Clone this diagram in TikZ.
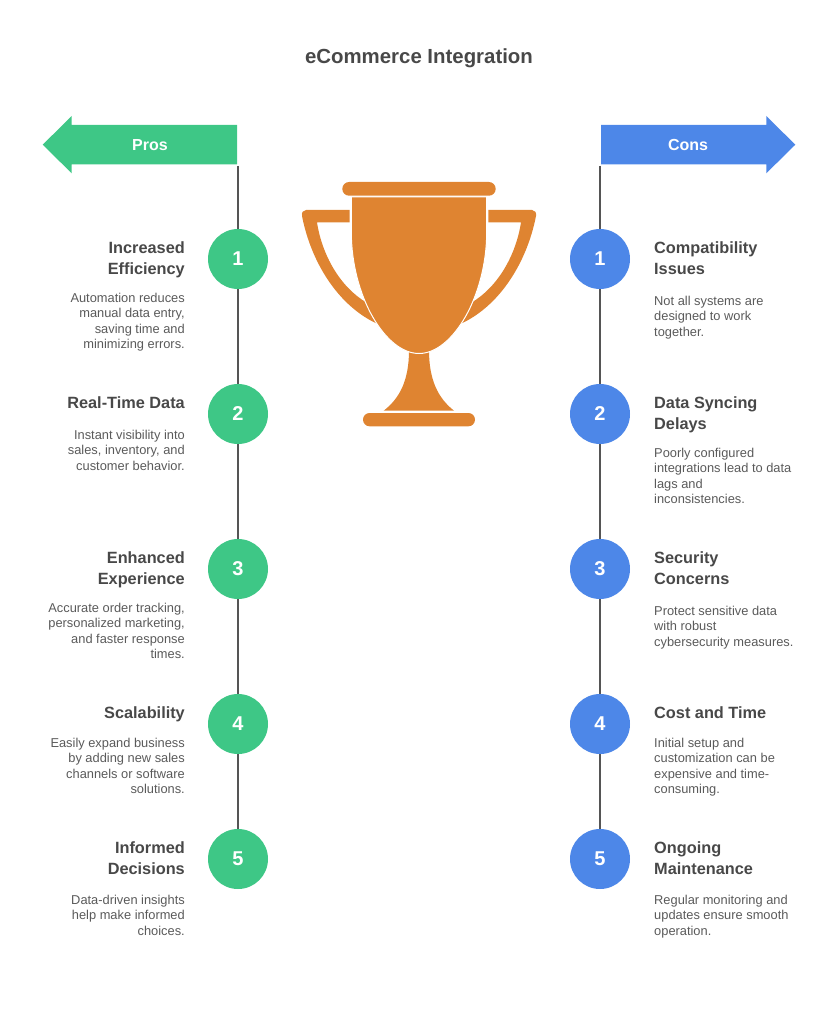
\documentclass[tikz,border=0pt]{standalone}
\usepackage{fontspec}
\setmainfont{Liberation Sans}
\definecolor{prosgreen}{HTML}{3EC786}
\definecolor{consblue}{HTML}{4D87E8}
\definecolor{cuporange}{HTML}{DF8431}
\definecolor{headgray}{HTML}{484848}
\definecolor{bodygray}{HTML}{5A5A5A}
\definecolor{linegray}{HTML}{555555}
\tikzset{
  num/.style={circle,minimum size=60pt,inner sep=0pt,text=white,font=\bfseries\fontsize{20}{24}\selectfont},
  pronum/.style={num,fill=prosgreen},
  connum/.style={num,fill=consblue},
  spine/.style={draw=linegray,line width=1.8pt},
  arrowtext/.style={text=white,inner sep=0pt,font=\bfseries\fontsize{16}{20}\selectfont},
  head/.style={text=headgray,inner sep=0pt,font=\bfseries\fontsize{16.3}{20.6}\selectfont},
  prohead/.style={head,anchor=north east,align=right},
  conhead/.style={head,anchor=north west,align=left},
  body/.style={text=bodygray,inner sep=0pt,font=\fontsize{12.85}{15.4}\selectfont},
  probody/.style={body,anchor=north east,align=right},
  conbody/.style={body,anchor=north west,align=left},
  cup/.style={fill=cuporange,draw=none},
  cupbowl/.style={fill=cuporange,draw=white,line width=1pt}
}
\begin{document}
\begin{tikzpicture}[x=1pt,y=-1pt]
\useasboundingbox (0,0) rectangle (838,1024);
\node[head,font=\bfseries\fontsize{20.4}{24}\selectfont] (title) at (419,58) {eCommerce Integration};
% arrows
\fill[prosgreen] (237,125) -- (71.7,125) -- (71.7,116) -- (42.7,144.7) -- (71.7,173.3) -- (71.7,164.3) -- (237,164.3) -- cycle;
\fill[consblue] (601,125) -- (766.3,125) -- (766.3,116) -- (795.3,144.7) -- (766.3,173.3) -- (766.3,164.3) -- (601,164.3) -- cycle;
\node[arrowtext] (prolabel) at (150,145) {Pros};
\node[arrowtext] (conlabel) at (688,145) {Cons};
\coordinate (protop) at (238,166);
\coordinate (contop) at (600,166);
% circles
\node[pronum] (p1) at (238,259) {1};
\node[pronum] (p2) at (238,414) {2};
\node[pronum] (p3) at (238,569) {3};
\node[pronum] (p4) at (238,724) {4};
\node[pronum] (p5) at (238,859) {5};
\node[connum] (c1) at (600,259) {1};
\node[connum] (c2) at (600,414) {2};
\node[connum] (c3) at (600,569) {3};
\node[connum] (c4) at (600,724) {4};
\node[connum] (c5) at (600,859) {5};
\draw[spine] (protop) -- (p1);
\draw[spine] (p1) -- (p2);
\draw[spine] (p2) -- (p3);
\draw[spine] (p3) -- (p4);
\draw[spine] (p4) -- (p5);
\draw[spine] (contop) -- (c1);
\draw[spine] (c1) -- (c2);
\draw[spine] (c2) -- (c3);
\draw[spine] (c3) -- (c4);
\draw[spine] (c4) -- (c5);
% trophy
\fill[cup,rounded corners=6.8pt] (342.3,182) rectangle (495.7,195.7);
\fill[cup] (349.7,210) -- (306,210) .. controls (303,210) and (301.5,212.5) .. (302,216) .. controls (311,262) and (338,306) .. (377.7,324) -- (366.7,302.7) .. controls (340,287) and (322,255) .. (317,222.3) -- (349.7,222.3) -- cycle;
\fill[cup] (488.3,210) -- (532,210) .. controls (535,210) and (536.5,212.5) .. (536,216) .. controls (527,262) and (500,306) .. (460.3,324) -- (471.3,302.7) .. controls (498,287) and (516,255) .. (521,222.3) -- (488.3,222.3) -- cycle;
\fill[cup] (409,350) -- (429,350) .. controls (429,380) and (438,398) .. (454,410.7) -- (383.7,410.7) .. controls (400,398) and (409,380) .. (409,350) -- cycle;
\draw[cupbowl] (351.3,197) -- (351.3,232) .. controls (351.3,295) and (385,353.5) .. (419,353.5) .. controls (453,353.5) and (486.7,295) .. (486.7,232) -- (486.7,197) -- cycle;
\fill[cup,rounded corners=6.6pt] (363,413) rectangle (475,426.3);
% left column
\node[prohead] (ph1) at (185,241.5) {Increased\\Efficiency};
\node[probody] (pb1) at (185,293) {Automation reduces\\manual data entry,\\saving time and\\minimizing errors.};
\node[prohead] (ph2) at (185,396.5) {Real-Time Data};
\node[probody] (pb2) at (185,430) {Instant visibility into\\sales, inventory, and\\customer behavior.};
\node[prohead] (ph3) at (185,551.5) {Enhanced\\Experience};
\node[probody] (pb3) at (185,603) {Accurate order tracking,\\personalized marketing,\\and faster response\\times.};
\node[prohead] (ph4) at (185,706.5) {Scalability};
\node[probody] (pb4) at (185,738) {Easily expand business\\by adding new sales\\channels or software\\solutions.};
\node[prohead] (ph5) at (185,841.5) {Informed\\Decisions};
\node[probody] (pb5) at (185,895) {Data-driven insights\\help make informed\\choices.};
% right column
\node[conhead] (ch1) at (654,241.5) {Compatibility\\Issues};
\node[conbody] (cb1) at (654,296) {Not all systems are\\designed to work\\together.};
\node[conhead] (ch2) at (654,396.5) {Data Syncing\\Delays};
\node[conbody] (cb2) at (654,448) {Poorly configured\\integrations lead to data\\lags and\\inconsistencies.};
\node[conhead] (ch3) at (654,551.5) {Security\\Concerns};
\node[conbody] (cb3) at (654,606) {Protect sensitive data\\with robust\\cybersecurity measures.};
\node[conhead] (ch4) at (654,706.5) {Cost and Time};
\node[conbody] (cb4) at (654,738) {Initial setup and\\customization can be\\expensive and time-\\consuming.};
\node[conhead] (ch5) at (654,841.5) {Ongoing\\Maintenance};
\node[conbody] (cb5) at (654,895) {Regular monitoring and\\updates ensure smooth\\operation.};
\end{tikzpicture}
\end{document}
